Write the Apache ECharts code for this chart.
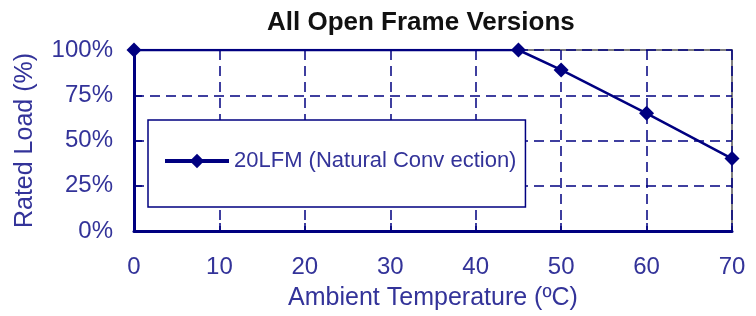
<!DOCTYPE html>
<html>
<head>
<meta charset="utf-8">
<script src="https://cdn.jsdelivr.net/npm/echarts@6/dist/echarts.min.js"></script>
<style>
html, body { margin: 0; padding: 0; background: #fff; }
#chart { width: 756px; height: 316px; }
</style>
</head>
<body>
<div id="chart"></div>
<script>
// derating curve
var temps = [0, 45, 50, 60, 70];
var loads = [100, 100, 89, 65, 40];
var seriesName = '20LFM (Natural Conv ection)';

var navy = '#000080';
var labelColor = '#333399';
var font = "'Liberation Sans', Arial, sans-serif";

var pts = [];
for (var i = 0; i < temps.length; i++) {
    pts.push([temps[i], loads[i]]);
}

var myChart = echarts.init(document.getElementById('chart'));
var option = {
    animation: false,
    title: {
        text: 'All Open Frame Versions',
        left: 262,
        top: 5,
        textStyle: { color: '#111', fontSize: 26, fontWeight: 'bold', fontFamily: font }
    },
    grid: {
        left: 134, right: 24, top: 50, bottom: 81,
        show: true,
        borderColor: '#808080',
        borderWidth: 2,
        backgroundColor: 'transparent'
    },
    legend: {
        left: 148,
        top: 120,
        orient: 'vertical',
        backgroundColor: '#fff',
        borderColor: navy,
        borderWidth: 1.5,
        borderRadius: 0,
        padding: [30, 9, 35, 15],
        itemWidth: 64,
        itemHeight: 18,
        lineStyle: { width: 4 },
        textStyle: { color: labelColor, fontSize: 22, fontFamily: font },
        data: [seriesName]
    },
    xAxis: {
        type: 'value',
        min: 0, max: 70, interval: 10,
        name: 'Ambient Temperature (ºC)',
        nameLocation: 'middle',
        nameGap: 55,
        nameTextStyle: { color: labelColor, fontSize: 25, fontFamily: font },
        axisLine: { show: true, lineStyle: { color: navy, width: 3 } },
        axisTick: { show: true, inside: true, length: 8, lineStyle: { color: navy, width: 1.5 } },
        axisLabel: { color: labelColor, fontSize: 24, fontFamily: font, margin: 24 },
        splitLine: { show: true, lineStyle: { color: navy, width: 1.5, type: [10, 6] } }
    },
    yAxis: {
        type: 'value',
        min: 0, max: 100, interval: 25,
        name: 'Rated Load (%)',
        nameLocation: 'middle',
        nameGap: 96,
        nameTextStyle: { color: labelColor, fontSize: 25, fontFamily: font },
        axisLine: { show: true, lineStyle: { color: navy, width: 3 } },
        axisTick: { show: true, inside: true, length: 8, lineStyle: { color: navy, width: 1.5 } },
        axisLabel: { color: labelColor, fontSize: 24, fontFamily: font, margin: 21, formatter: '{value}%' },
        splitLine: { show: true, lineStyle: { color: navy, width: 1.5, type: [10, 6] } }
    },
    series: [{
        name: seriesName,
        type: 'line',
        data: pts,
        symbol: 'diamond',
        symbolSize: 15,
        showAllSymbol: true,
        lineStyle: { color: navy, width: 2.5 },
        itemStyle: { color: navy }
    }]
};
myChart.setOption(option);
</script>
</body>
</html>
